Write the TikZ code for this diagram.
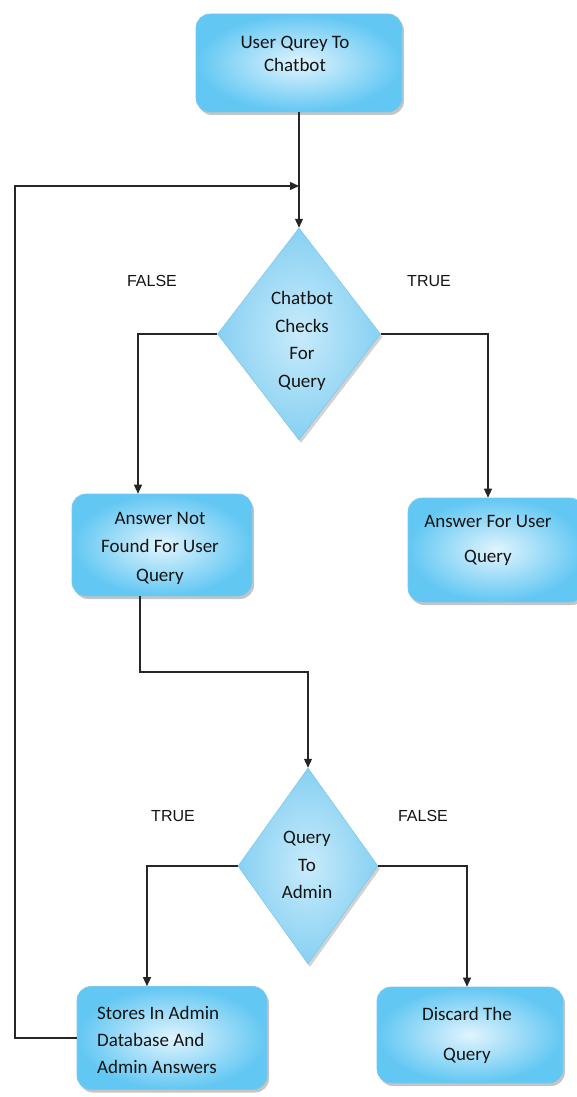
\documentclass[tikz,border=0pt]{standalone}
\usepackage{fontspec}
\setmainfont{Carlito}
\newfontfamily\lblfont{Liberation Sans}
\usetikzlibrary{shapes.geometric,arrows.meta,shadows}
\definecolor{boxin}{RGB}{225,244,253}
\definecolor{boxout}{RGB}{98,199,243}
\definecolor{boxedge}{RGB}{120,200,235}
\definecolor{dmin}{RGB}{200,235,251}
\definecolor{dmout}{RGB}{135,208,242}
\definecolor{txt}{RGB}{20,20,20}
\tikzset{
  flowbox/.style={rectangle, rounded corners=14pt, inner sep=0pt,
    inner color=boxin, outer color=boxout, draw=boxedge, line width=0.6pt,
    drop shadow={shadow xshift=2pt, shadow yshift=-3pt, opacity=0.45, fill=gray}},
  decision/.style={diamond, inner sep=0pt,
    inner color=dmin, outer color=dmout, draw=boxedge, line width=0.5pt,
    drop shadow={shadow xshift=2pt, shadow yshift=-3pt, opacity=0.35, fill=gray}},
  boxtext/.style={text=txt, align=center, inner sep=0pt},
  lbl/.style={text=txt, inner sep=0pt, font=\lblfont\fontsize{16}{18}\selectfont},
  arr/.style={draw=black!85, line width=1.2pt, -{Triangle[length=9pt,width=8pt]}},
}
\begin{document}
\begin{tikzpicture}[x=1pt,y=-1pt]
\useasboundingbox[fill=white] (0,0) rectangle (576,1097);

% boxes
\node[flowbox, minimum width=206pt, minimum height=98pt] (top) at (299,63) {};
\node[decision, minimum width=163pt, minimum height=212pt] (d1) at (299,334) {};
\node[flowbox, minimum width=180pt, minimum height=102pt] (ansnot) at (162,545) {};
\node[flowbox, minimum width=176pt, minimum height=104pt] (ansfor) at (496,550) {};
\node[decision, minimum width=140pt, minimum height=196pt] (d2) at (308,866) {};
\node[flowbox, minimum width=190pt, minimum height=103pt] (stores) at (172,1038) {};
\node[flowbox, minimum width=186pt, minimum height=96pt] (discard) at (470,1035) {};

% texts
\node[boxtext, font=\fontsize{19}{23}\selectfont] (ttop) at (295,54) {User Qurey To\\Chatbot};
\node[boxtext, font=\fontsize{19}{27.5}\selectfont] (td1) at (302,341) {Chatbot\\Checks\\For\\Query};
\node[boxtext, font=\fontsize{19}{28.5}\selectfont] (tansnot) at (160,548) {Answer Not\\Found For User\\Query};
\node[boxtext, font=\fontsize{19}{35}\selectfont] (tansfor) at (488,540) {Answer For User\\Query};
\node[boxtext, font=\fontsize{19}{27.5}\selectfont] (td2) at (307,865) {Query\\To\\Admin};
\node[boxtext, align=left, anchor=west, font=\fontsize{19}{27}\selectfont] (tstores) at (97,1040) {Stores In Admin\\Database And\\Admin Answers};
\node[boxtext, font=\fontsize{19}{40}\selectfont] (tdiscard) at (467,1035) {Discard The\\Query};

% branch labels
\node[lbl] (f1) at (152,281) {FALSE};
\node[lbl] (t1) at (429,281) {TRUE};
\node[lbl] (t2) at (173,816) {TRUE};
\node[lbl] (f2) at (423,816) {FALSE};

% connectors
\coordinate (j0) at (299,186);
\coordinate (j1) at (308,672);
\coordinate (fb) at (15,1038);
\draw[arr] (top.south) -- (d1.north);
\draw[arr] (d1.west) -| ([xshift=-24pt]ansnot.north);
\draw[arr] (d1.east) -| ([xshift=-8pt]ansfor.north);
\draw[arr] ([xshift=-22pt]ansnot.south) |- (j1) -- (d2.north);
\draw[arr] (d2.west) -| ([xshift=-25pt]stores.north);
\draw[arr] (d2.east) -| ([xshift=-3pt]discard.north);
\draw[arr] (stores.west) -- (fb) |- (j0);
\end{tikzpicture}
\end{document}
